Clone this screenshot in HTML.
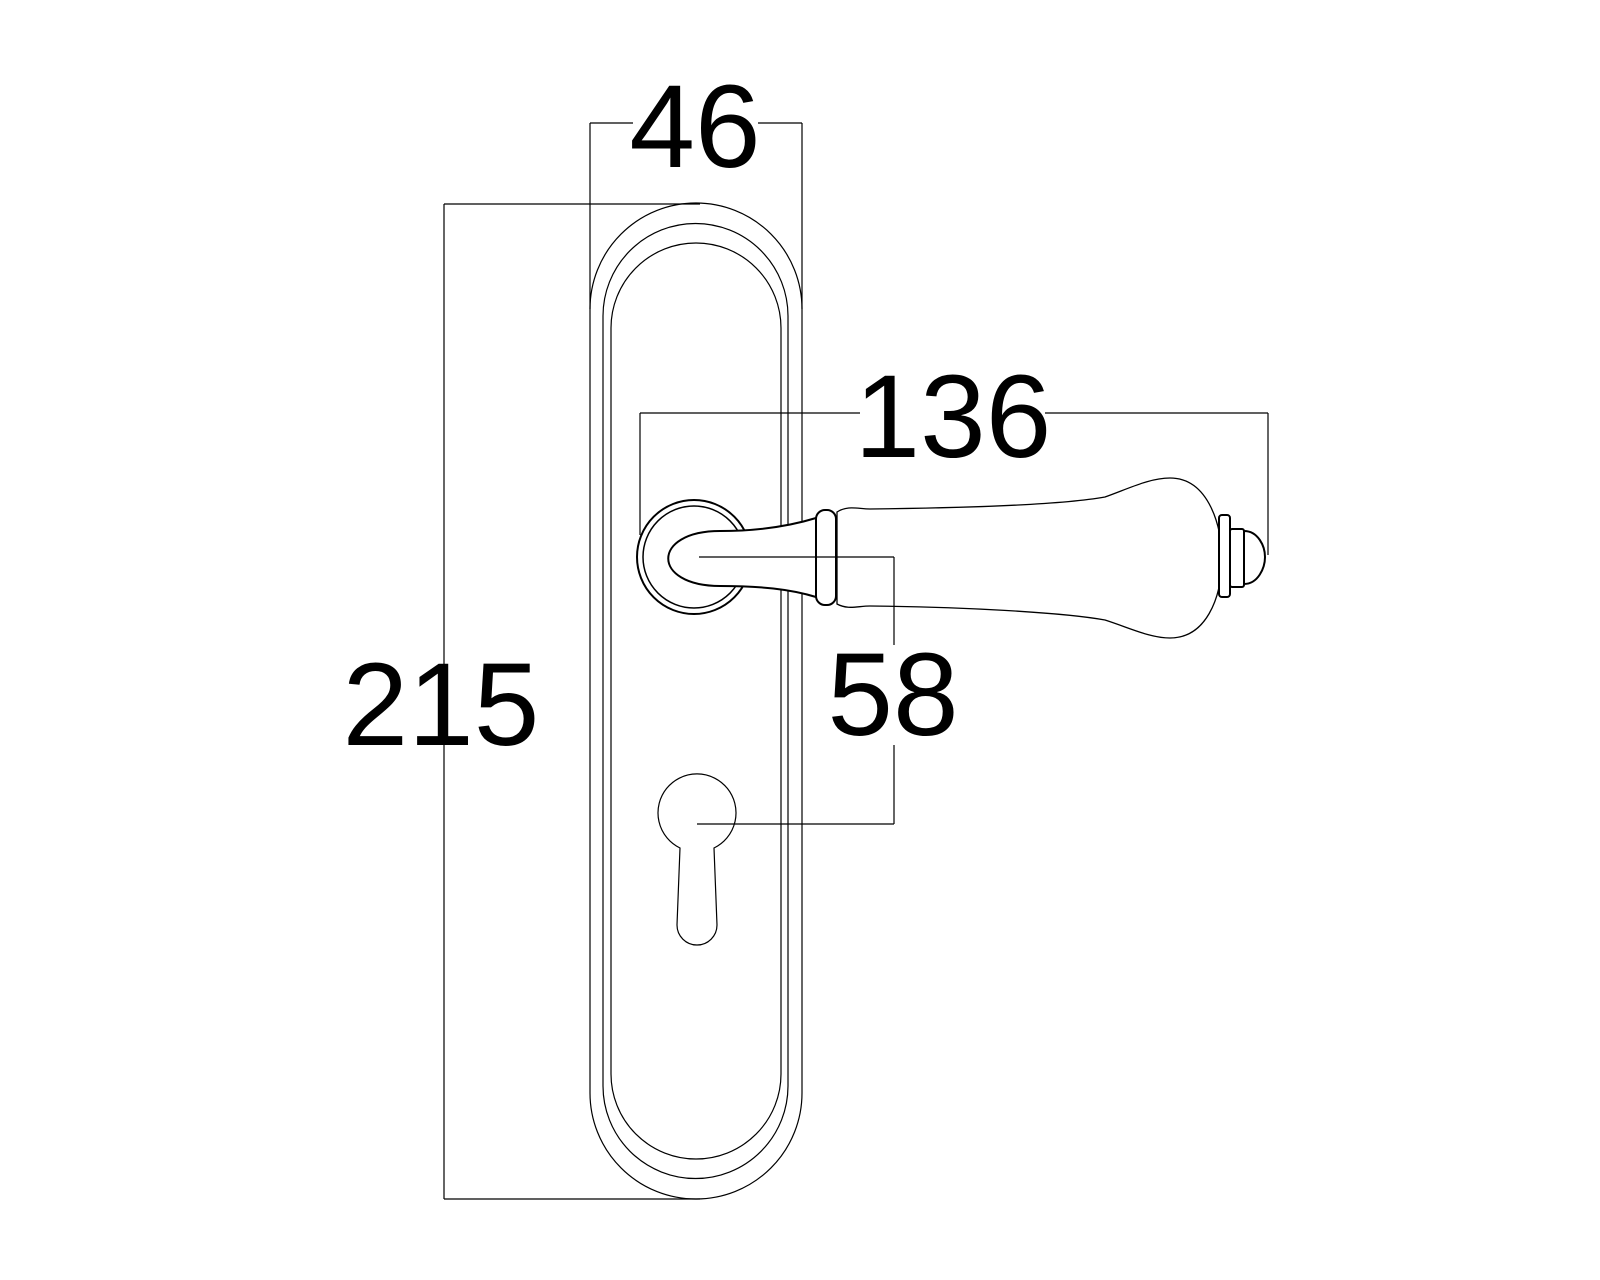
<!DOCTYPE html>
<html><head><meta charset="utf-8"><style>
html,body{margin:0;padding:0;background:#fff;}
svg{display:block}
text{font-family:"Liberation Sans",sans-serif;fill:#000}
</style></head><body>
<svg width="1600" height="1280" viewBox="0 0 1600 1280" xmlns="http://www.w3.org/2000/svg">
<g fill="none" stroke="#000" stroke-width="1.2">
<path d="M590,309 A106,106 0 0 1 802,309 L802,1093 A106,106 0 0 1 590,1093 Z"/>
<path d="M603,316 A92.5,92.5 0 0 1 788,316 L788,1086 A92.5,92.5 0 0 1 603,1086 Z"/>
<path d="M611,328 A85,85 0 0 1 781,328 L781,1074 A85,85 0 0 1 611,1074 Z"/>
<line x1="590" y1="123" x2="633" y2="123"/><line x1="758" y1="123" x2="802" y2="123"/>
<line x1="590" y1="123" x2="590" y2="309"/><line x1="802" y1="123" x2="802" y2="309"/>
<line x1="444" y1="204" x2="700" y2="204"/>
<line x1="444" y1="1199" x2="700" y2="1199"/>
<line x1="444" y1="204" x2="444" y2="1199"/>
<line x1="640" y1="413" x2="860" y2="413"/><line x1="1045" y1="413" x2="1268" y2="413"/>
<line x1="640" y1="413" x2="640" y2="535"/><line x1="1268" y1="413" x2="1268" y2="555"/>
<line x1="894" y1="745" x2="894" y2="824"/>
<line x1="697" y1="824" x2="894" y2="824"/>
<path d="M680,848 A39,39 0 1 1 714,848 L717,925 A20,20 0 0 1 677,925 Z"/>
</g>
<g stroke="#000" stroke-width="2" fill="#fff">
<circle cx="694" cy="557" r="57" stroke-width="2"/>
<circle cx="694" cy="557" r="51" fill="none" stroke-width="1.5"/>
<path d="M720,531 C760,531 790,526 816,518 L816,597 C790,589 760,586 720,586 C651,586 651,531 720,531 Z"/>
<rect x="816" y="510" width="20" height="95" rx="9"/>
<path d="M837,512 C848,505 858,509 870,509 C960,508 1060,505 1105,497 C1130,488 1150,478 1170,478 C1210,478 1222,530 1222,557 C1222,600 1205,638 1170,638 C1150,638 1130,628 1105,620 C1060,612 960,607 870,606 C858,606 848,610 837,604 Z" stroke-width="1.3"/>
<rect x="1219" y="515" width="11" height="82" rx="3"/>
<rect x="1230" y="529" width="14" height="58" rx="2"/>
<path d="M1244,531 C1258,531 1265,546 1265,557 C1265,568 1258,584 1244,584 Z"/>
</g>
<g stroke="#000" stroke-width="1.2">
<line x1="699" y1="557" x2="894" y2="557"/>
<line x1="894" y1="557" x2="894" y2="645"/>
</g>
<text x="695" y="167" font-size="118" text-anchor="middle">46</text>
<text x="441" y="745" font-size="118" text-anchor="middle">215</text>
<text x="953" y="457" font-size="118" text-anchor="middle">136</text>
<text x="893" y="735" font-size="118" text-anchor="middle">58</text>
</svg>
</body></html>
